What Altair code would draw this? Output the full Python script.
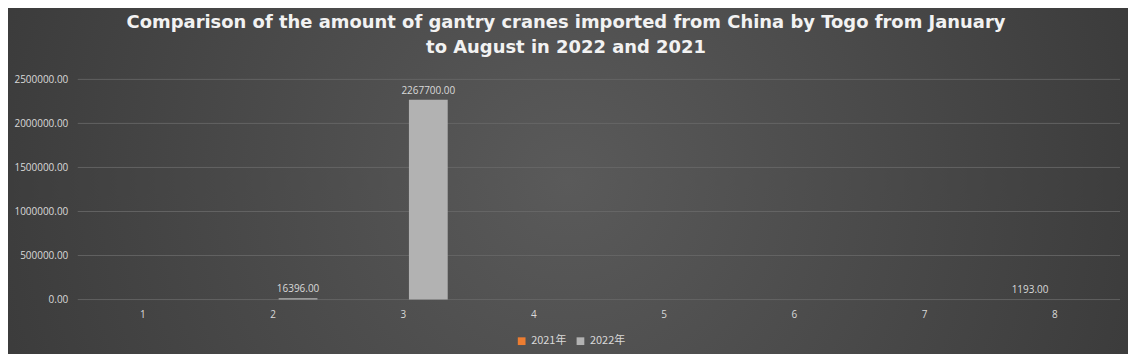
import altair as alt
import pandas as pd

months = ["1", "2", "3", "4", "5", "6", "7", "8"]
series = ["2021年", "2022年"]
v2021 = [0, 0, 0, 0, 0, 0, 0, 1193]
v2022 = [0, 16396, 2267700, 0, 0, 0, 0, 0]
y_ticks = [0, 500000, 1000000, 1500000, 2000000, 2500000]
title_lines = ["Comparison of the amount of gantry cranes imported from China by Togo from January",
               "to August in 2022 and 2021"]
colors = ["#ED7D31", "#B2B2B2"]

rows = []
for i, m in enumerate(months):
    rows.append({"month": m, "series": series[0], "value": v2021[i]})
    rows.append({"month": m, "series": series[1], "value": v2022[i]})
df = pd.DataFrame(rows)
df["label"] = df["value"].map(lambda v: f"{v:.2f}")

W, H = 1046, 221
PL, PT, PR, PB = 70, 71, 8, 54

bg = alt.Chart(pd.DataFrame({"a": [0]})).mark_rect(
    color=alt.RadialGradient(
        gradient="radial", x1=0.5, y1=0.5, x2=0.5, y2=0.5, r1=0, r2=0.75,
        stops=[alt.GradientStop(offset=0, color="#5a5a5a"),
               alt.GradientStop(offset=1, color="#2e2e2e")]
    ),
    clip=False,
).encode(
    x=alt.value(-PL - 8), x2=alt.value(W + PR + 8),
    y=alt.value(-PT - 8), y2=alt.value(H + PB + 8),
)

title_layers = []
for i, line in enumerate(title_lines):
    title_layers.append(
        alt.Chart(pd.DataFrame({"t": [line]})).mark_text(
            color="#f2f2f2", fontSize=18, fontWeight="bold", font="DejaVu Sans",
            align="center", baseline="middle",
        ).encode(text="t:N", x=alt.value(490), y=alt.value(-57 + 26 * i))
    )

y_axis = alt.Axis(values=y_ticks, format=".2f", ticks=False, domain=False, labelPadding=10,
                  labelColor="#d9d9d9", labelFontSize=10, labelFont="Open Sans",
                  grid=False, zindex=1)
y_scale = alt.Scale(domain=[0, 2500000], nice=False)

x = alt.X("month:N", sort=months, title=None,
          scale=alt.Scale(paddingInner=0.0, paddingOuter=0.0),
          axis=alt.Axis(labelAngle=0, ticks=False, domain=False, labelPadding=10,
                        labelColor="#d9d9d9", labelFontSize=10, labelFont="Open Sans",
                        grid=False, zindex=1))
y = alt.Y("value:Q", title=None, scale=y_scale, axis=y_axis)
xo = alt.XOffset("series:N", sort=series,
                 scale=alt.Scale(domain=series, paddingInner=0.22, paddingOuter=0.42))

grid = alt.Chart(pd.DataFrame({"v": y_ticks})).mark_rule(
    color="#6a6a6a", strokeWidth=0.8
).encode(y=alt.Y("v:Q", title=None, scale=y_scale, axis=y_axis))

bars = alt.Chart(df).mark_bar().encode(
    x=x, y=y, xOffset=xo,
    color=alt.Color("series:N", sort=series,
                    scale=alt.Scale(domain=series, range=colors),
                    legend=alt.Legend(title=None, orient="none", direction="horizontal",
                                      legendX=440, legendY=257, symbolType="square",
                                      symbolSize=60, symbolStrokeWidth=0,
                                      labelColor="#d9d9d9", labelFontSize=11,
                                      labelFont="Noto Sans CJK SC", columnPadding=8,
                                      symbolOffset=0, zindex=1)),
)

labels = alt.Chart(df).transform_filter("datum.value > 0").mark_text(
    dy=-9, color="#d9d9d9", fontSize=10, font="Open Sans"
).encode(x=x, y=y, xOffset=xo, text="label:N")

chart = alt.layer(bg, grid, bars, labels, *title_layers).properties(
    width=W, height=H,
    autosize=alt.AutoSizeParams(type="none"),
    padding={"left": PL, "top": PT, "right": PR, "bottom": PB},
    background="#3c3c3c",
).configure_view(stroke=None)

chart.save("out.html", embed_options={"renderer": "svg", "actions": False})
